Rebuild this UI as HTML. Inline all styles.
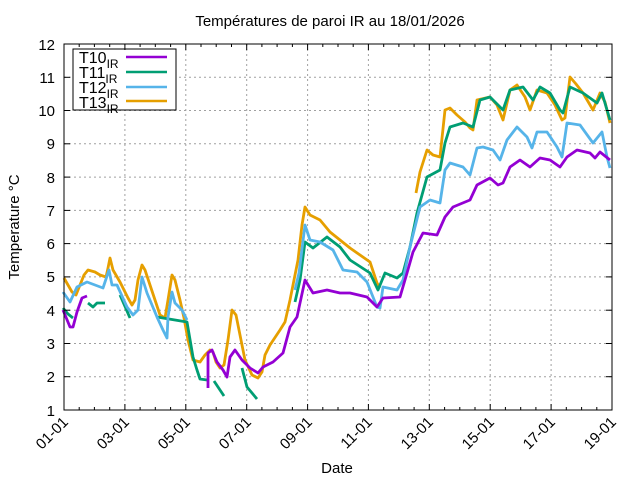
<!DOCTYPE html>
<html><head><meta charset="utf-8"><style>
body{margin:0;background:#fff}
svg{display:block;font-family:"Liberation Sans",sans-serif}
</style></head><body>
<svg width="640" height="480" viewBox="0 0 640 480" xmlns="http://www.w3.org/2000/svg">
<rect width="640" height="480" fill="#fff"/>
<text x="330" y="26" font-size="15" text-anchor="middle">Températures de paroi IR au 18/01/2026</text>
<g stroke="#a0a0a0" stroke-dasharray="2,3" stroke-width="1">
<line x1="124.9" y1="44" x2="124.9" y2="410"/><line x1="185.8" y1="44" x2="185.8" y2="410"/><line x1="246.7" y1="44" x2="246.7" y2="410"/><line x1="307.6" y1="44" x2="307.6" y2="410"/><line x1="368.4" y1="44" x2="368.4" y2="410"/><line x1="429.3" y1="44" x2="429.3" y2="410"/><line x1="490.2" y1="44" x2="490.2" y2="410"/><line x1="551.1" y1="44" x2="551.1" y2="410"/>
<line x1="64" y1="376.7" x2="612" y2="376.7"/><line x1="64" y1="343.5" x2="612" y2="343.5"/><line x1="64" y1="310.2" x2="612" y2="310.2"/><line x1="64" y1="276.9" x2="612" y2="276.9"/><line x1="64" y1="243.6" x2="612" y2="243.6"/><line x1="64" y1="210.4" x2="612" y2="210.4"/><line x1="64" y1="177.1" x2="612" y2="177.1"/><line x1="64" y1="143.8" x2="612" y2="143.8"/><line x1="64" y1="110.5" x2="612" y2="110.5"/><line x1="64" y1="77.3" x2="612" y2="77.3"/>
</g>
<g fill="none" stroke-width="2.8" stroke-linejoin="round">
<polyline stroke="#e69f00" points="64,278 68,285 72,292 76,295 80,285 84,275 88,270 95,272 100,275 106,277 108,268 110,258 113,270 120,282 128,298 132,305 135,300 138,280 142,265 145,270 150,285 155,300 160,315 165,318 168,300 172,275 175,280 180,300 184,318 188,340 193,360 200,362 205,355 210,350 213,352 216,362 220,368 224,365 228,340 232,310 236,315 240,335 245,360 252,375 258,378 262,372 265,355 270,345 280,330 285,322 290,300 294,280 298,260 302,225 305,207 310,215 320,220 330,232 340,240 350,248 360,255 370,262 377,283 380,288"/>
<polyline stroke="#e69f00" points="416,193 420,172 427,150 433,155 440,157 445,110 450,108 457,115 465,122 470,128 473,130 477,100 490,97 497,105 503,120 510,90 517,85 525,97 530,110 537,90 547,93 555,105 562,120 565,118 570,77 576,84 583,93 593,110 600,93 605,102 610,123"/>
<polyline stroke="#009e73" points="63,308 68,314 73,318"/>
<polyline stroke="#009e73" points="88,303 93,307 97,303 105,303"/>
<polyline stroke="#009e73" points="120,295 130,318"/>
<polyline stroke="#009e73" points="157,317 187,322 193,357 197,370 200,379 207,380"/>
<polyline stroke="#009e73" points="214,381 220,390 224,396"/>
<polyline stroke="#009e73" points="242,368 247,387 257,399"/>
<polyline stroke="#009e73" points="295,302 300,280 305,242 313,248 327,237 340,247 350,260 370,273 378,290 385,273 397,278 403,273 410,247 417,213 427,177 440,170 445,143 450,127 463,123 473,127 480,100 490,97 503,110 510,90 523,87 533,100 540,87 550,93 560,110 563,113 570,87 583,93 597,103 602,93 610,120"/>
<polyline stroke="#56b4e9" points="63,292 70,302 77,287 87,282 103,288 109,270 112,285 117,285 127,307 133,315 138,310 142,277 147,293 157,317 163,330 167,338 168,317 172,292 175,303 182,310 187,320"/>
<polyline stroke="#56b4e9" points="295,290 299,273 305,225 310,240 320,242 333,250 343,270 357,272 367,282 377,307 380,308 383,287 397,290 403,280 410,247 420,207 430,200 440,203 445,170 450,163 463,167 470,175 477,148 483,147 493,150 500,160 507,140 517,127 527,137 532,148 537,132 547,132 557,147 562,157 567,123 580,125 593,143 602,132 607,157 610,168"/>
<polyline stroke="#9400d3" points="63,310 70,327 73,327 77,312 82,298 87,296"/>
<polyline stroke="#9400d3" points="208,388 208,353 212,350 217,362 223,370 227,377 230,357 235,350 242,360 250,368 258,373 263,367 273,362 283,353 290,327 297,317 300,303 305,280 313,293 327,290 340,293 350,293 367,297 377,307 383,298 400,297 407,273 413,252 423,233 437,235 445,217 453,207 470,200 477,185 490,178 498,185 503,183 510,167 520,160 530,167 540,158 550,160 560,167 567,157 577,150 590,153 595,158 600,152 610,160"/>
</g>
<rect x="64" y="44" width="548" height="366" fill="none" stroke="#000" stroke-width="1"/>
<g stroke="#000" stroke-width="1">
<line x1="64" y1="44" x2="70" y2="44"/><line x1="64" y1="77.3" x2="70" y2="77.3"/><line x1="64" y1="110.5" x2="70" y2="110.5"/><line x1="64" y1="143.8" x2="70" y2="143.8"/><line x1="64" y1="177.1" x2="70" y2="177.1"/><line x1="64" y1="210.4" x2="70" y2="210.4"/><line x1="64" y1="243.6" x2="70" y2="243.6"/><line x1="64" y1="276.9" x2="70" y2="276.9"/><line x1="64" y1="310.2" x2="70" y2="310.2"/><line x1="64" y1="343.5" x2="70" y2="343.5"/><line x1="64" y1="376.7" x2="70" y2="376.7"/>
<line x1="606" y1="77.3" x2="612" y2="77.3"/><line x1="606" y1="110.5" x2="612" y2="110.5"/><line x1="606" y1="143.8" x2="612" y2="143.8"/><line x1="606" y1="177.1" x2="612" y2="177.1"/><line x1="606" y1="210.4" x2="612" y2="210.4"/><line x1="606" y1="243.6" x2="612" y2="243.6"/><line x1="606" y1="276.9" x2="612" y2="276.9"/><line x1="606" y1="310.2" x2="612" y2="310.2"/><line x1="606" y1="343.5" x2="612" y2="343.5"/><line x1="606" y1="376.7" x2="612" y2="376.7"/>
</g>
<g font-size="15" text-anchor="end">
<text x="55" y="50">12</text><text x="55" y="83">11</text><text x="55" y="116">10</text><text x="55" y="149">9</text><text x="55" y="183">8</text><text x="55" y="216">7</text><text x="55" y="249">6</text><text x="55" y="282">5</text><text x="55" y="316">4</text><text x="55" y="349">3</text><text x="55" y="382">2</text><text x="55" y="416">1</text>
</g>
<g font-size="15" text-anchor="end">
<text transform="translate(69,423) rotate(-45)">01-01</text>
<text transform="translate(130,423) rotate(-45)">03-01</text>
<text transform="translate(191,423) rotate(-45)">05-01</text>
<text transform="translate(252,423) rotate(-45)">07-01</text>
<text transform="translate(313,423) rotate(-45)">09-01</text>
<text transform="translate(373,423) rotate(-45)">11-01</text>
<text transform="translate(434,423) rotate(-45)">13-01</text>
<text transform="translate(495,423) rotate(-45)">15-01</text>
<text transform="translate(556,423) rotate(-45)">17-01</text>
<text transform="translate(617,423) rotate(-45)">19-01</text>
</g>
<text x="337" y="473" font-size="15" text-anchor="middle">Date</text>
<text transform="translate(19,227) rotate(-90)" font-size="15" text-anchor="middle">Temperature °C</text>
<rect x="73" y="49" width="103" height="61" fill="#fff" stroke="#000"/>
<g font-size="16">
<text x="79" y="63">T10<tspan font-size="12" dy="5">IR</tspan></text>
<text x="79" y="78">T11<tspan font-size="12" dy="5">IR</tspan></text>
<text x="79" y="93">T12<tspan font-size="12" dy="5">IR</tspan></text>
<text x="79" y="108">T13<tspan font-size="12" dy="5">IR</tspan></text>
</g>
<g stroke-width="2.5">
<line x1="126" y1="57" x2="167" y2="57" stroke="#9400d3"/>
<line x1="126" y1="72" x2="167" y2="72" stroke="#009e73"/>
<line x1="126" y1="87" x2="167" y2="87" stroke="#56b4e9"/>
<line x1="126" y1="101" x2="167" y2="101" stroke="#e69f00"/>
</g>
<g stroke="#000" stroke-width="1">
<path d="M124.9,410v-6M185.8,410v-6M246.7,410v-6M307.6,410v-6M368.4,410v-6M429.3,410v-6M490.2,410v-6M551.1,410v-6M124.9,44v6M185.8,44v6M246.7,44v6M307.6,44v6M368.4,44v6M429.3,44v6M490.2,44v6M551.1,44v6"/>
<path d="M79.2,410v-3M94.4,410v-3M109.7,410v-3M140.1,410v-3M155.3,410v-3M170.6,410v-3M201,410v-3M216.2,410v-3M231.5,410v-3M261.9,410v-3M277.1,410v-3M292.4,410v-3M322.8,410v-3M338,410v-3M353.2,410v-3M383.7,410v-3M398.9,410v-3M414.1,410v-3M444.6,410v-3M459.8,410v-3M475,410v-3M505.4,410v-3M520.7,410v-3M535.9,410v-3M566.3,410v-3M581.6,410v-3M596.8,410v-3"/>
<path d="M79.2,44v3M94.4,44v3M109.7,44v3M140.1,44v3M155.3,44v3M170.6,44v3M201,44v3M216.2,44v3M231.5,44v3M261.9,44v3M277.1,44v3M292.4,44v3M322.8,44v3M338,44v3M353.2,44v3M383.7,44v3M398.9,44v3M414.1,44v3M444.6,44v3M459.8,44v3M475,44v3M505.4,44v3M520.7,44v3M535.9,44v3M566.3,44v3M581.6,44v3M596.8,44v3"/>
</g>
</svg>
</body></html>
